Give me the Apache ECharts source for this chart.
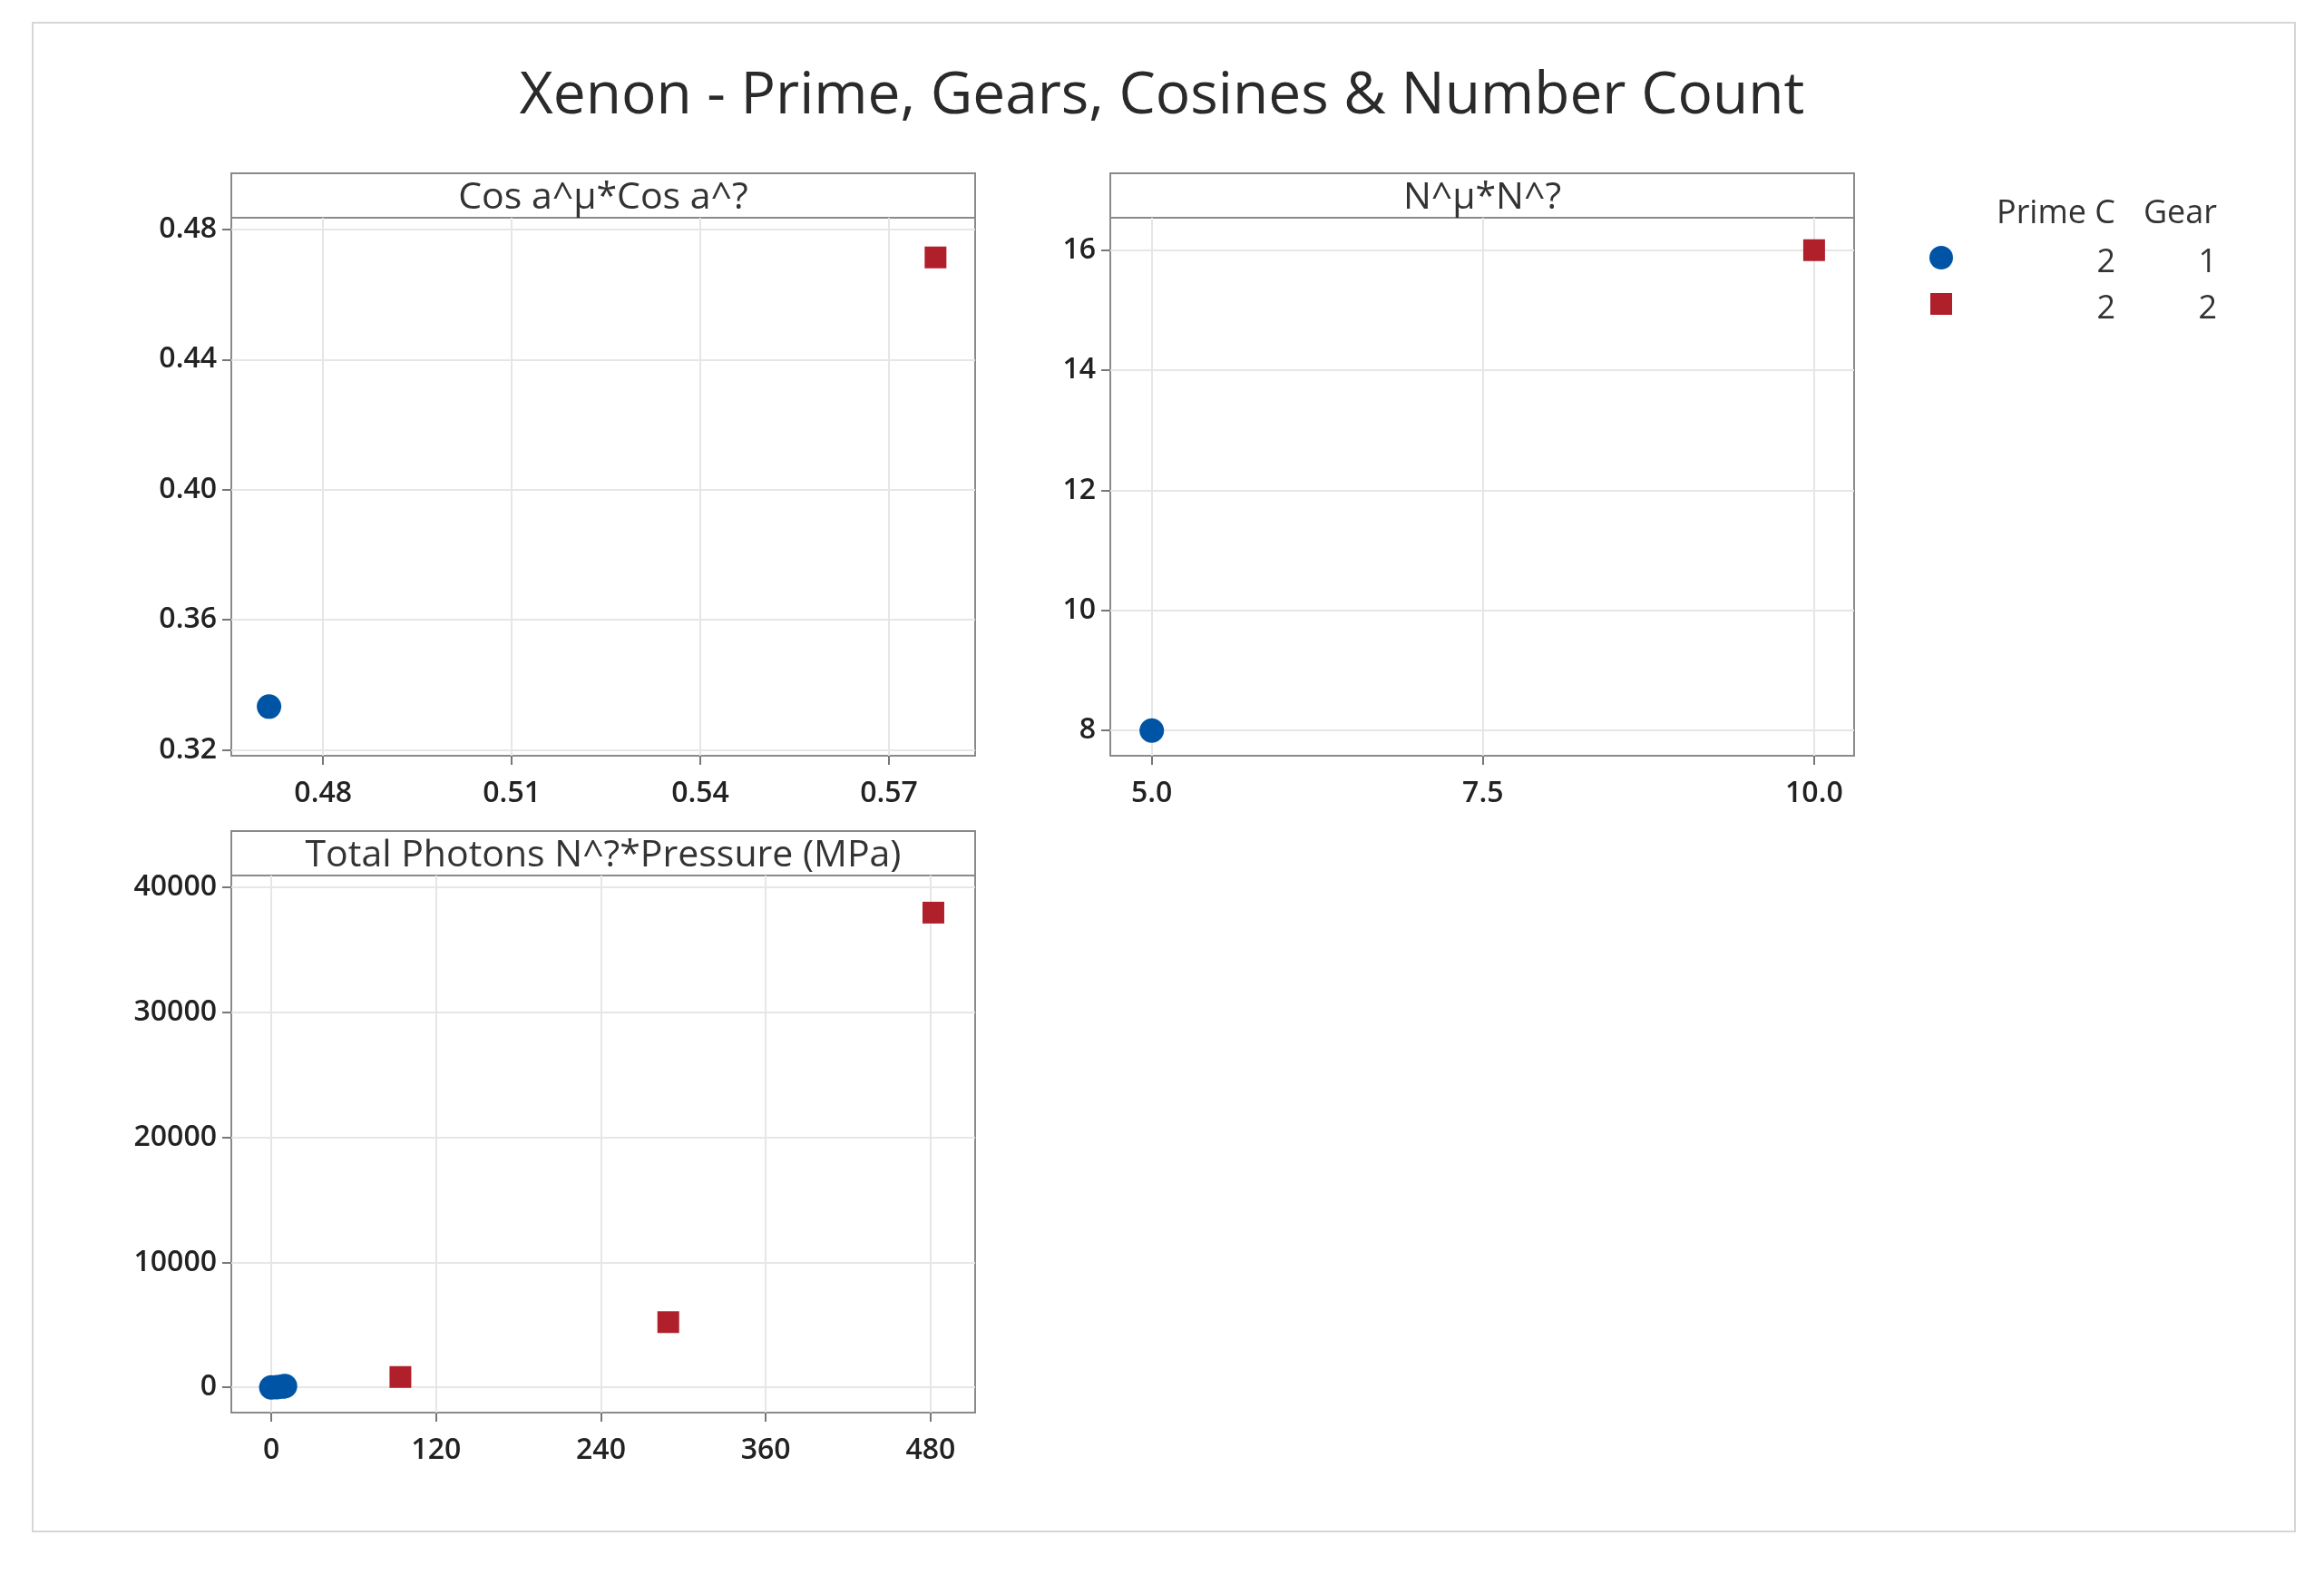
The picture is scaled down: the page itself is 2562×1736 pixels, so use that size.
<!DOCTYPE html>
<html>
<head>
<meta charset="utf-8">
<script src="https://cdn.jsdelivr.net/npm/echarts@6/dist/echarts.min.js"></script>
<style>
  html, body { margin: 0; padding: 0; background: #fff; }
  #chart { width: 2562px; height: 1736px; }
</style>
</head>
<body>
<div id="chart"></div>
<script>
// panel titles
var panelTitles = ['Cos a^\u00b5*Cos a^?', 'N^\u00b5*N^?', 'Total Photons N^?*Pressure (MPa)'];

// panel 1: Cos
var cosGear1 = [[0.4714, 0.3333]];
var cosGear2 = [[0.5774, 0.4714]];
var cosXTicks = [0.48, 0.51, 0.54, 0.57];
var cosYTicks = [0.32, 0.36, 0.40, 0.44, 0.48];

// panel 2: N
var nGear1 = [[5, 8]];
var nGear2 = [[10, 16]];
var nXTicks = [5.0, 7.5, 10.0];
var nYTicks = [8, 10, 12, 14, 16];

// panel 3: photons
var phGear1 = [[0, 0], [4, 20], [8, 60], [10, 100]];
var phGear2 = [[94, 830], [289, 5220], [482, 37980]];
var phXTicks = [0, 120, 240, 360, 480];
var phYTicks = [0, 10000, 20000, 30000, 40000];

// legend rows: Prime C, Gear
var legendRows = [['2', '1'], ['2', '2']];

var BLUE = '#0054a6', RED = '#b0202a';
var FONT = '"Open Sans", "Noto Sans", sans-serif';

var panels = [
    {left: 255, top: 240, width: 820, height: 593, xr: [0.4654, 0.5837], yr: [0.3182, 0.4836], xt: cosXTicks, yt: cosYTicks, xd: 2, yd: 2, s1: cosGear1, s2: cosGear2},
    {left: 1224, top: 240, width: 820, height: 593, xr: [4.687, 10.302], yr: [7.58, 16.54], xt: nXTicks, yt: nYTicks, xd: 1, yd: 0, s1: nGear1, s2: nGear2},
    {left: 255, top: 965, width: 820, height: 592, xr: [-29.1, 512.4], yr: [-2018, 40950], xt: phXTicks, yt: phYTicks, xd: 0, yd: 0, s1: phGear1, s2: phGear2}
];

function makeAxis(range, ticks, digits, isX) {
    return {
        type: 'value',
        min: range[0],
        max: range[1],
        axisLine: {show: false, onZero: false},
        axisTick: {show: true, customValues: ticks, length: 10, lineStyle: {color: '#777', width: 2}},
        axisLabel: {
            customValues: ticks,
            fontSize: 32, fontWeight: 600, color: '#222', fontFamily: FONT,
            margin: isX ? 26 : 16,
            formatter: function (v) { return v.toFixed(digits); }
        },
        splitLine: {show: true, lineStyle: {color: '#e6e6e6', width: 2}}
    };
}

var grids = [], xAxes = [], yAxes = [], series = [], graphics = [];
panels.forEach(function (p, i) {
    grids.push({left: p.left, top: p.top, width: p.width, height: p.height, show: true, borderColor: '#8a8a8a', borderWidth: 2, backgroundColor: '#fff'});
    xAxes.push(Object.assign(makeAxis(p.xr, p.xt, p.xd, true), {gridIndex: i}));
    yAxes.push(Object.assign(makeAxis(p.yr, p.yt, p.yd, false), {gridIndex: i}));
    series.push({type: 'scatter', xAxisIndex: i, yAxisIndex: i, data: p.s1, symbol: 'circle', symbolSize: 27, itemStyle: {color: BLUE, opacity: 1}});
    series.push({type: 'scatter', xAxisIndex: i, yAxisIndex: i, data: p.s2, symbol: 'rect', symbolSize: 24, itemStyle: {color: RED, opacity: 1}});
    // header strip
    graphics.push({type: 'rect', shape: {x: p.left, y: p.top - 49, width: p.width, height: 49}, style: {fill: '#fff', stroke: '#8a8a8a', lineWidth: 2}});
    graphics.push({type: 'text', x: p.left + p.width / 2, y: p.top - 22, style: {text: panelTitles[i], fontSize: 41, fontWeight: 500, fontFamily: FONT, fill: '#333', align: 'center', verticalAlign: 'middle'}});
});

// outer frame
graphics.unshift({type: 'rect', shape: {x: 36, y: 25, width: 2494, height: 1663}, style: {fill: 'none', stroke: '#d6d6d6', lineWidth: 2}});

// legend
graphics.push({type: 'text', x: 2332, y: 236, style: {text: 'Prime C', fontSize: 36, fontWeight: 500, fontFamily: FONT, fill: '#333', align: 'right', verticalAlign: 'middle'}});
graphics.push({type: 'text', x: 2444, y: 236, style: {text: 'Gear', fontSize: 36, fontWeight: 500, fontFamily: FONT, fill: '#333', align: 'right', verticalAlign: 'middle'}});
legendRows.forEach(function (row, i) {
    var y = 286 + i * 51;
    if (i === 0) {
        graphics.push({type: 'circle', shape: {cx: 2140, cy: y - 2, r: 13}, style: {fill: BLUE}});
    } else {
        graphics.push({type: 'rect', shape: {x: 2128, y: y - 14, width: 24, height: 24}, style: {fill: RED}});
    }
    graphics.push({type: 'text', x: 2332, y: y + 4, style: {text: row[0], fontSize: 36, fontFamily: FONT, fill: '#333', align: 'right', verticalAlign: 'middle'}});
    graphics.push({type: 'text', x: 2444, y: y + 4, style: {text: row[1], fontSize: 36, fontFamily: FONT, fill: '#333', align: 'right', verticalAlign: 'middle'}});
});

var chart = echarts.init(document.getElementById('chart'));
chart.setOption({
    backgroundColor: '#fff',
    animation: false,
    title: {
        text: 'Xenon - Prime, Gears, Cosines & Number Count',
        left: 'center', top: 70,
        textStyle: {fontSize: 64, fontWeight: 500, color: '#2a2a2a', fontFamily: FONT}
    },
    grid: grids,
    xAxis: xAxes,
    yAxis: yAxes,
    series: series,
    graphic: graphics
});
</script>
</body>
</html>
